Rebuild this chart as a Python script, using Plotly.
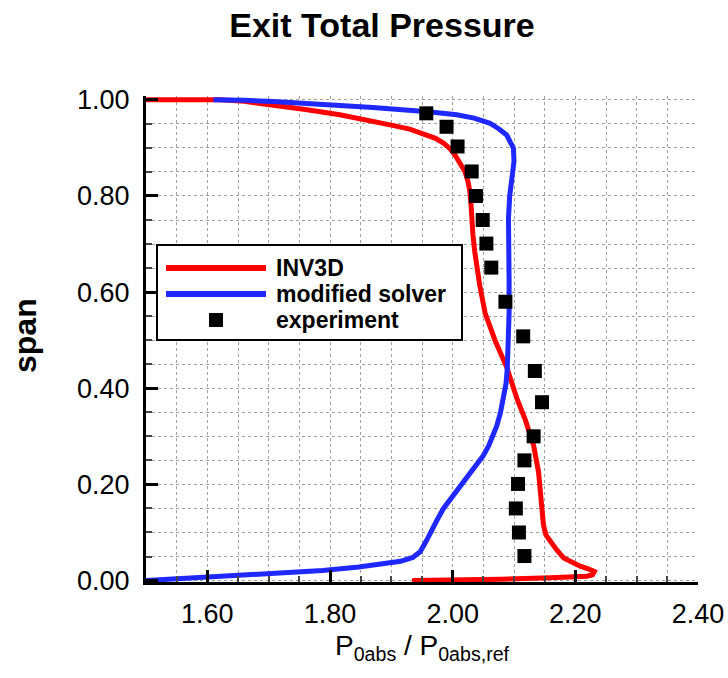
import plotly.graph_objects as go

# ---------------- data ----------------
inv3d_x = [1.50, 1.62, 1.66, 1.7075, 1.76, 1.816, 1.86, 1.898, 1.93, 1.952, 1.972, 1.985,
           1.996, 2.004, 2.013, 2.020, 2.025, 2.028, 2.030, 2.031, 2.033, 2.036, 2.040, 2.044,
           2.053, 2.069, 2.088, 2.105, 2.118, 2.132, 2.140, 2.144, 2.146, 2.148, 2.152, 2.159,
           2.170, 2.181, 2.195, 2.208, 2.222, 2.231, 2.228, 2.219, 2.159, 2.078, 1.934]
inv3d_y = [1.0, 1.0, 0.997, 0.9896, 0.980, 0.969, 0.959, 0.948, 0.939, 0.930, 0.920, 0.910,
           0.898, 0.885, 0.868, 0.851, 0.830, 0.809, 0.78, 0.753, 0.72, 0.684, 0.65, 0.615,
           0.556, 0.50, 0.444, 0.378, 0.336, 0.281, 0.226, 0.171, 0.13, 0.116, 0.095, 0.082,
           0.063, 0.047, 0.037, 0.030, 0.024, 0.019, 0.012, 0.009, 0.006, 0.0025, 0.0]

mod_x = [1.50, 1.55, 1.60, 1.669, 1.73, 1.788, 1.847, 1.88, 1.915, 1.935, 1.947, 1.956, 1.964,
         1.975, 1.985, 1.998, 2.0125, 2.026, 2.040, 2.050, 2.059, 2.066, 2.072, 2.078, 2.083,
         2.087, 2.089, 2.091, 2.092, 2.092, 2.091, 2.091, 2.093, 2.095, 2.098, 2.100, 2.099,
         2.094, 2.088, 2.075, 2.061, 2.035, 2.0066, 1.96, 1.925, 1.87, 1.816, 1.76, 1.7076,
         1.66, 1.61]
mod_y = [0.0, 0.004, 0.008, 0.012, 0.016, 0.021, 0.028, 0.033, 0.040, 0.048, 0.06, 0.08, 0.102,
         0.127, 0.15, 0.172, 0.195, 0.217, 0.24, 0.26, 0.281, 0.30, 0.322, 0.35, 0.378,
         0.41, 0.44, 0.487, 0.556, 0.626, 0.685, 0.754, 0.80, 0.823, 0.85, 0.872, 0.8996,
         0.915, 0.927, 0.940, 0.951, 0.962, 0.969, 0.975, 0.979, 0.984, 0.988, 0.993, 0.9965,
         0.999, 1.0]

exp_x = [1.957, 1.990, 2.008, 2.031, 2.038, 2.049, 2.055, 2.063, 2.086, 2.115, 2.134, 2.1457,
         2.132, 2.117, 2.1065, 2.103, 2.108, 2.117]
exp_y = [0.972, 0.944, 0.903, 0.851, 0.800, 0.750, 0.701, 0.651, 0.580, 0.508, 0.436, 0.371,
         0.300, 0.250, 0.201, 0.150, 0.100, 0.051]

series_names = ["INV3D", "modified solver", "experiment"]
x_range = [1.5, 2.4]
y_range = [-0.003, 1.008]

# ---------------- style ----------------
RED = "#FF0000"
BLUE = "#1E28FF"
FONT = "Arial, 'Liberation Sans', sans-serif"
W, H = 728, 678
# plot area in page pixels: x 146..698, y 96..582
ML, MT = 146, 96
MR, MB = W - 698, H - 582
PW, PH = W - ML - MR, H - MT - MB


def pxx(px):
    """page pixel x -> paper coordinate"""
    return (px - ML) / PW


def pxy(py):
    """page pixel y -> paper coordinate"""
    return (H - MB - py) / PH


fig = go.Figure()
fig.add_trace(go.Scatter(x=inv3d_x, y=inv3d_y, mode="lines", name=series_names[0],
                         line=dict(color=RED, width=5), showlegend=False))
fig.add_trace(go.Scatter(x=mod_x, y=mod_y, mode="lines", name=series_names[1],
                         line=dict(color=BLUE, width=5), showlegend=False))
fig.add_trace(go.Scatter(x=exp_x, y=exp_y, mode="markers", name=series_names[2],
                         marker=dict(symbol="square", size=14, color="black"),
                         showlegend=False, cliponaxis=False))

axis_common = dict(
    showline=True, linecolor="black", linewidth=3, mirror=False, automargin=False,
    ticks="inside", ticklen=12, tickwidth=3, tickcolor="black",
    showgrid=True, gridcolor="#A0A0A0", griddash="dot", gridwidth=1,
    zeroline=False, tickformat=".2f",
    tickfont=dict(family=FONT, size=27, color="black"),
    minor=dict(dtick=0.05, ticks="inside", ticklen=6, tickwidth=2, tickcolor="#444444",
               showgrid=True, gridcolor="#A0A0A0", griddash="dot", gridwidth=1),
)

fig.update_xaxes(range=x_range, dtick=0.2, tick0=0, ticklabelstandoff=6, **axis_common)
fig.update_yaxes(range=y_range, dtick=0.2, tick0=0, ticklabelstandoff=8, **axis_common)

fig.update_layout(
    template="none",
    width=W, height=H,
    margin=dict(l=ML, r=MR, t=MT, b=MB, pad=0),
    paper_bgcolor="white", plot_bgcolor="white",
    font=dict(family=FONT, color="black"),
    title=dict(text="<b>Exit Total Pressure</b>", font=dict(family=FONT, size=34, color="black"),
               x=382 / W, xref="container", xanchor="center",
               y=1 - 13 / H, yref="container", yanchor="top", pad=dict(t=0)),
)

# x axis title
fig.add_annotation(text="P<sub>0abs</sub> / P<sub>0abs,ref</sub>", xref="paper", yref="paper",
                   x=0.5, y=0, xanchor="center", yanchor="top", yshift=-46,
                   showarrow=False, font=dict(family=FONT, size=28, color="black"))

# y axis title
fig.add_annotation(text="<b>span</b>", xref="paper", yref="paper", x=0, y=0.5,
                   xanchor="center", yanchor="middle", xshift=-(ML - 25), yshift=3,
                   textangle=-90, showarrow=False,
                   font=dict(family=FONT, size=32, color="black"))

# legend (drawn manually to match the original's long line samples)
fig.add_shape(type="rect", xref="paper", yref="paper",
              x0=pxx(157), x1=pxx(462), y0=pxy(340), y1=pxy(245),
              line=dict(color="black", width=2), fillcolor="white", layer="above")
leg_rows = [268, 294, 320]
fig.add_shape(type="line", xref="paper", yref="paper", x0=pxx(166), x1=pxx(266),
              y0=pxy(leg_rows[0]), y1=pxy(leg_rows[0]), line=dict(color=RED, width=6), layer="above")
fig.add_shape(type="line", xref="paper", yref="paper", x0=pxx(166), x1=pxx(266),
              y0=pxy(leg_rows[1]), y1=pxy(leg_rows[1]), line=dict(color=BLUE, width=6), layer="above")
fig.add_shape(type="rect", xref="paper", yref="paper", x0=pxx(209), x1=pxx(223),
              y0=pxy(leg_rows[2] + 7), y1=pxy(leg_rows[2] - 7),
              line=dict(width=0), fillcolor="black", layer="above")
for name, row in zip(series_names, leg_rows):
    fig.add_annotation(text=f"<b>{name}</b>", xref="paper", yref="paper",
                       x=pxx(274), y=pxy(row), xanchor="left", yanchor="middle",
                       showarrow=False, font=dict(family=FONT, size=23, color="black"))

# remove the browser's default 8px body margin so the figure fills the window exactly
fig.write_html("out.html", config={"displayModeBar": False},
               post_script="document.body.style.margin='0px';document.body.style.overflow='hidden';")
